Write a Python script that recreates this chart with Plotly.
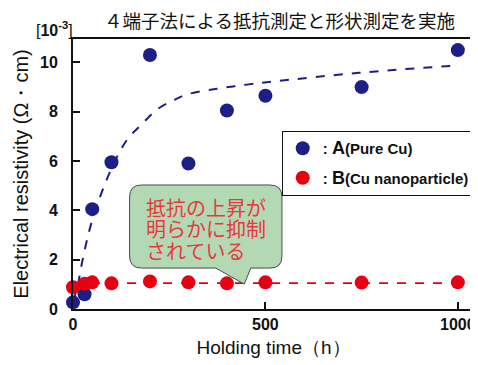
import plotly.graph_objects as go

# Data
time_a = [0, 30, 50, 100, 200, 300, 400, 500, 750, 1000]
res_a = [0.27, 0.6, 4.05, 5.95, 10.3, 5.9, 8.05, 8.65, 9.0, 10.5]
time_b = [0, 30, 50, 100, 200, 300, 400, 500, 750, 1000]
res_b = [0.88, 1.02, 1.08, 1.04, 1.12, 1.08, 1.04, 1.08, 1.07, 1.08]
fit_a_x = [0, 12, 25, 50, 100, 142, 176, 219, 260, 296, 374, 451, 529, 744, 1000]
fit_a_y = [0.3, 0.94, 2.0, 3.6, 5.7, 6.9, 7.45, 8.1, 8.45, 8.7, 8.93, 9.1, 9.24, 9.58, 9.88]
fit_b_x = [0, 1000]
fit_b_y = [1.05, 1.05]
callout_lines = ["抵抗の上昇が", "明らかに抑制", "されている"]

BLUE = "#1c1f86"
RED = "#e60012"

fig = go.Figure()
fig.add_trace(go.Scatter(x=fit_a_x, y=fit_a_y, mode="lines", line=dict(color=BLUE, width=2, dash="dash", shape="spline"),
                         showlegend=False, hoverinfo="skip"))
fig.add_trace(go.Scatter(x=fit_b_x, y=fit_b_y, mode="lines", line=dict(color=RED, width=1.6, dash="dash"),
                         showlegend=False, hoverinfo="skip"))
fig.add_trace(go.Scatter(x=time_a, y=res_a, mode="markers", marker=dict(color=BLUE, size=14), legendgroup="a",
                         name="<b>: <span style='font-size:18px'>A</span>(Pure Cu)</b>", cliponaxis=False))
fig.add_trace(go.Scatter(x=time_b, y=res_b, mode="markers", marker=dict(color=RED, size=14), legendgroup="b",
                         name="<b>: <span style='font-size:18px'>B</span>(Cu nanoparticle)</b>", cliponaxis=False))

# Callout (speech bubble) geometry in data units
bx0, bx1, by0, by1 = 147, 543, 1.66, 5.03
rx, ry = 31, 0.49
p_left, p_right, tip_x, tip_y = 371, 462, 445, 1.01
path = (f"M {bx0+rx},{by1} L {bx1-rx},{by1} Q {bx1},{by1} {bx1},{by1-ry} "
        f"L {bx1},{by0+ry} Q {bx1},{by0} {bx1-rx},{by0} "
        f"L {p_right},{by0} L {tip_x},{tip_y} L {p_left},{by0} "
        f"L {bx0+rx},{by0} Q {bx0},{by0} {bx0},{by0+ry} "
        f"L {bx0},{by1-ry} Q {bx0},{by1} {bx0+rx},{by1} Z")
fig.add_shape(type="path", path=path, xref="x", yref="y", fillcolor="#b3d9b4",
              line=dict(color="#4a4a4a", width=1), layer="above")

for i, line in enumerate(callout_lines):
    fig.add_annotation(x=184, y=4.12 - i * 0.87, xref="x", yref="y", xanchor="left", yanchor="middle",
                       text=line, showarrow=False, align="left",
                       font=dict(family="Noto Sans CJK JP", size=20, color="#e8383d"))

fig.add_annotation(x=0.514, y=1.07, xref="paper", yref="paper", xanchor="center", yanchor="middle",
                   text="４端子法による抵抗測定と形状測定を実施", showarrow=False,
                   font=dict(family="Noto Sans CJK JP", size=18.5, color="#111"))
fig.add_annotation(x=-0.045, y=1.037, xref="paper", yref="paper", xanchor="center", yanchor="middle",
                   text="[<b>10</b><sup><b>-3</b></sup>]", showarrow=False,
                   font=dict(family="Liberation Sans", size=16, color="#111"))

fig.update_layout(
    width=470, height=357,
    margin=dict(l=65, r=2, t=31, b=56),
    plot_bgcolor="white", paper_bgcolor="white",
    font=dict(family="Liberation Sans", color="#111"),
    legend=dict(x=0.52, y=0.66, xanchor="left", yanchor="top", bgcolor="white",
                bordercolor="#111", borderwidth=1.2, font=dict(size=15, family="Liberation Sans"),
                itemwidth=30, tracegroupgap=7),
    xaxis=dict(range=[0, 1042], tickvals=[0, 500, 1000], ticks="inside", ticklen=7, tickwidth=1.5,
               tickcolor="#111", showline=True, linecolor="#111", linewidth=2, mirror=True,
               showgrid=False, zeroline=False,
               tickfont=dict(size=16, family="Liberation Sans", weight="bold"),
               title=dict(text="Holding time（h）", font=dict(size=19), standoff=8)),
    yaxis=dict(range=[0, 10.95], tickvals=[0, 2, 4, 6, 8, 10], ticks="inside", ticklen=7, tickwidth=1.5,
               tickcolor="#111", showline=True, linecolor="#111", linewidth=2, mirror=True,
               showgrid=False, zeroline=False, ticklabelstandoff=10,
               tickfont=dict(size=16, family="Liberation Sans", weight="bold"),
               title=dict(text="Electrical resistivity (Ω・cm)", font=dict(size=20), standoff=6)),
)

fig.write_html("out.html")
